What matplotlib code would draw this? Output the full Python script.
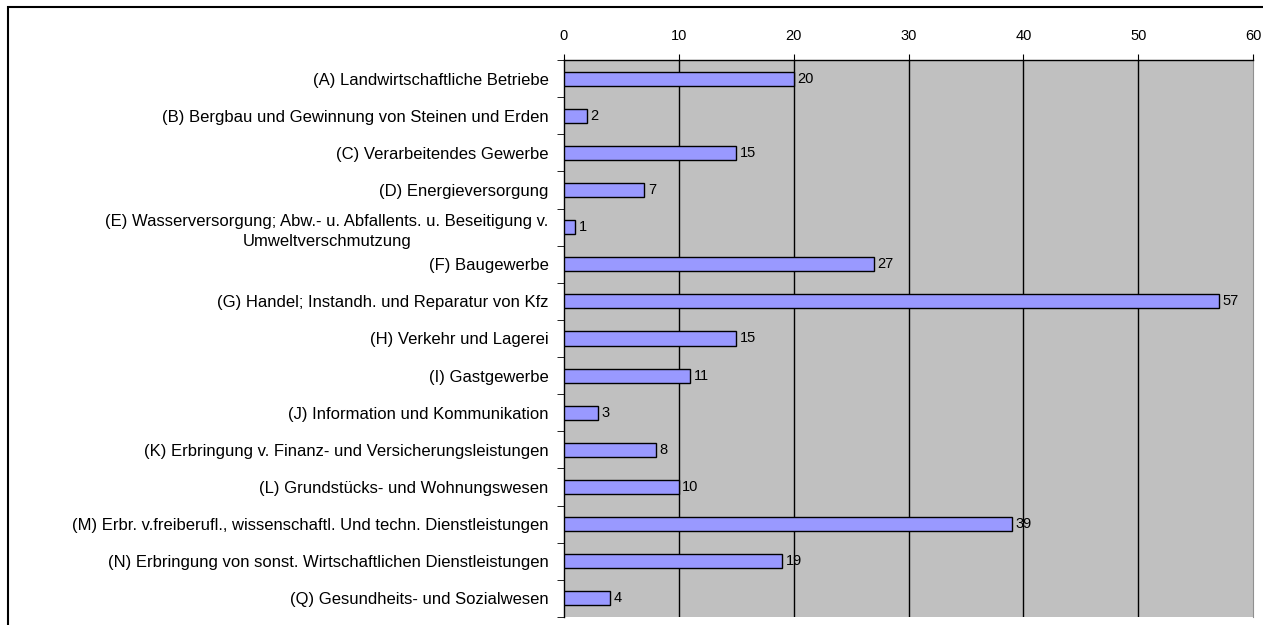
import matplotlib
matplotlib.use('Agg')
import matplotlib.pyplot as plt
import numpy as np

plt.rcParams['font.family'] = ['Liberation Sans', 'DejaVu Sans']

# branches and counts
labels = ['(A) Landwirtschaftliche Betriebe',
          '(B) Bergbau und Gewinnung von Steinen und Erden',
          '(C) Verarbeitendes Gewerbe',
          '(D) Energieversorgung',
          '(E) Wasserversorgung; Abw.- u. Abfallents. u. Beseitigung v.\nUmweltverschmutzung',
          '(F) Baugewerbe',
          '(G) Handel; Instandh. und Reparatur von Kfz',
          '(H) Verkehr und Lagerei',
          '(I) Gastgewerbe',
          '(J) Information und Kommunikation',
          '(K) Erbringung v. Finanz- und Versicherungsleistungen',
          '(L) Grundstücks- und Wohnungswesen',
          '(M) Erbr. v.freiberufl., wissenschaftl. Und techn. Dienstleistungen',
          '(N) Erbringung von sonst. Wirtschaftlichen Dienstleistungen',
          '(Q) Gesundheits- und Sozialwesen']
values = [20, 2, 15, 7, 1, 27, 57, 15, 11, 3, 8, 10, 39, 19, 4]
xticks = [0, 10, 20, 30, 40, 50, 60]

fig = plt.figure(figsize=(12.63, 6.25), dpi=100)
ax = fig.add_axes([564/1263, 1 - 617/625, (1253-564)/1263, (617-60)/625])

# outer frame like the spreadsheet chart border
fig.patches.append(plt.Rectangle((8/1263, -0.1), 1.2, 1 - 7/625 + 0.1,
                                 transform=fig.transFigure, fill=False,
                                 edgecolor='black', linewidth=1.5))

ax.set_facecolor('#C0C0C0')
y = np.arange(len(values))
ax.barh(y, values, height=0.38, color='#9999FF', edgecolor='black',
        linewidth=1, zorder=3)
for yi, v in zip(y, values):
    ax.text(v + 0.3, yi, str(v), va='center', ha='left', fontsize=10.5, zorder=4)

ax.set_xlim(0, 60)
ax.set_ylim(len(values) - 0.5, -0.5)
ax.xaxis.tick_top()
ax.set_xticks(xticks)
ax.tick_params(axis='x', direction='out', length=4, labelsize=10.5, pad=8)
for xt in xticks[1:-1]:
    ax.axvline(xt, color='black', linewidth=1, zorder=2)

ax.set_yticks(y)
ax.set_yticklabels(labels, fontsize=12)
for t in ax.get_yticklabels():
    t.set_multialignment('center')
    t.set_linespacing(1.45)
ax.tick_params(axis='y', length=0, pad=11)
ax.set_yticks(np.arange(-0.5, len(values), 1), minor=True)
ax.tick_params(axis='y', which='minor', length=5, direction='out')

ax.spines['bottom'].set_visible(False)
ax.spines['right'].set_color('#909090')
ax.spines['top'].set_linewidth(1)
ax.spines['left'].set_linewidth(1)

fig.savefig('out.png', dpi=100)
